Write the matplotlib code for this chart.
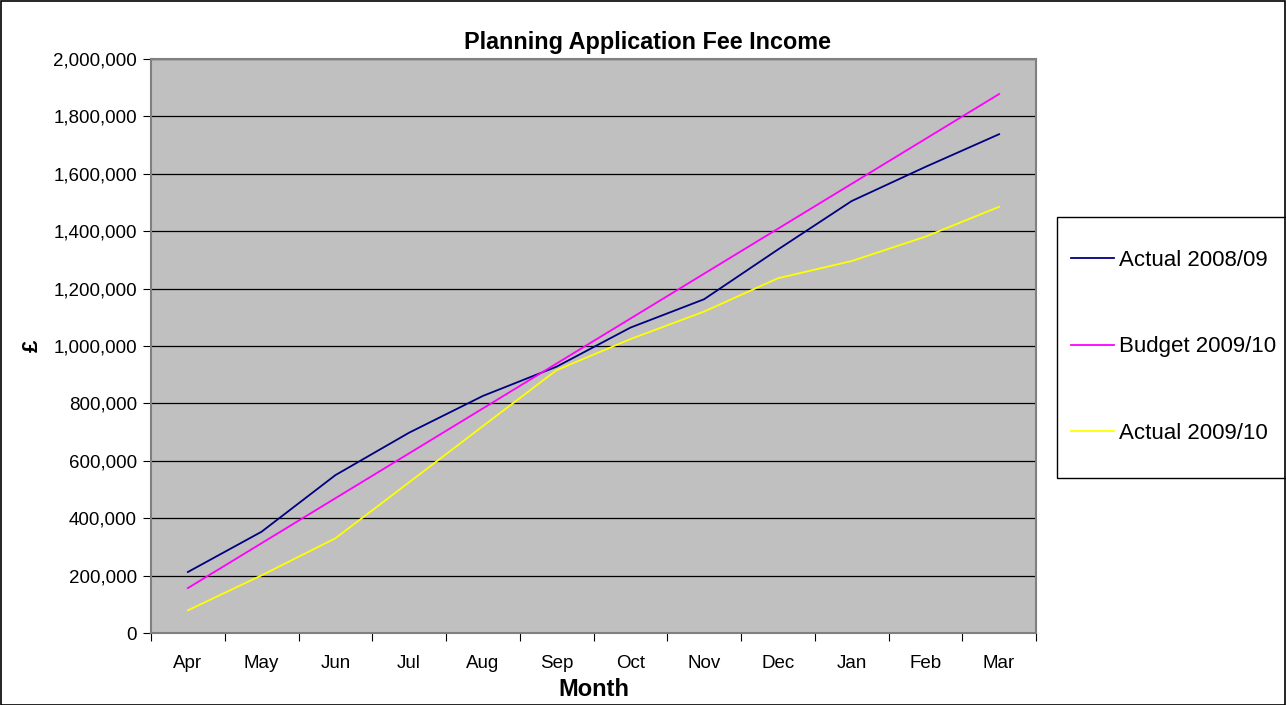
import matplotlib
matplotlib.use("Agg")
import matplotlib.pyplot as plt
from matplotlib.patches import Rectangle
from matplotlib.ticker import FuncFormatter, FixedLocator

plt.rcParams['font.family'] = ['Liberation Sans', 'DejaVu Sans']

months = ["Apr", "May", "Jun", "Jul", "Aug", "Sep", "Oct", "Nov", "Dec", "Jan", "Feb", "Mar"]
actual_0809 = [212500, 353000, 550000, 698000, 826000, 928000, 1064000, 1163000,
               1336000, 1505000, 1624000, 1738000]
budget_0910 = [156500, 313000, 469500, 626000, 782500, 939000, 1095500, 1252000,
               1408500, 1565000, 1721500, 1878000]
actual_0910 = [79000, 201000, 330000, 525000, 721000, 916000, 1024000, 1120000,
               1236000, 1296000, 1381000, 1485000]
series_labels = ["Actual 2008/09", "Budget 2009/10", "Actual 2009/10"]
series_colors = ["#000080", "#FF00FF", "#FFFF00"]

W, H = 1286, 705
fig = plt.figure(figsize=(W / 100, H / 100), dpi=100)
ax = fig.add_axes([151 / W, 1 - 633 / H, 885 / W, 574 / H])
ax.set_facecolor("#C0C0C0")

x = list(range(len(months)))
handles = []
for vals, lab, col in zip([actual_0809, budget_0910, actual_0910], series_labels, series_colors):
    h, = ax.plot(x, vals, color=col, lw=1.3, label=lab, zorder=3)
    handles.append(h)

ax.set_xlim(-0.5, len(months) - 0.5)
ax.set_ylim(0, 2000000)
ax.set_yticks(range(0, 2000001, 200000))
ax.yaxis.set_major_formatter(FuncFormatter(lambda v, p: f"{int(v):,}"))
ax.grid(axis="y", color="black", lw=0.9, zorder=1)
ax.set_axisbelow(True)

ax.xaxis.set_major_locator(FixedLocator([i - 0.5 for i in range(len(months) + 1)]))
ax.xaxis.set_minor_locator(FixedLocator(x))
ax.set_xticklabels([])
ax.set_xticklabels(months, minor=True)
ax.tick_params(axis="x", which="major", length=6, width=0.8, color="black", direction="out")
ax.tick_params(axis="x", which="minor", length=0, pad=16, labelsize=13.5)
ax.tick_params(axis="y", length=6, width=0.8, color="black", direction="out", pad=4, labelsize=13.5)

for s in ax.spines.values():
    s.set_color("#808080")
    s.set_linewidth(1.5)

ax.set_xlabel("Month", fontsize=17, fontweight="bold")
ax.xaxis.set_label_coords(0.5, -(690 - 633) / 574)
ax.xaxis.label.set_va("center")
ax.set_ylabel("£", fontsize=16, fontweight="bold")
ax.yaxis.set_label_coords(-(151 - 32) / 885, 0.5)
ax.yaxis.label.set_va("center")

fig.text(648 / W, 1 - 42 / H, "Planning Application Fee Income", ha="center", va="center",
         fontsize=16.8, fontweight="bold")

# legend box
fig.patches.append(Rectangle((1057 / W, 1 - 478 / H), (W - 1057 + 10) / W, (478 - 217) / H,
                             transform=fig.transFigure, facecolor="white", edgecolor="black",
                             lw=1.0, zorder=0))
leg = fig.legend(handles=handles, loc="center left", bbox_to_anchor=(1071 / W, 1 - 347 / H),
                 frameon=False, fontsize=16, handlelength=1.95,
                 handletextpad=0.22, labelspacing=2.95, borderpad=0, borderaxespad=0)

fig.patches.append(Rectangle((0.5 / W, 0.5 / H), (W - 1.5) / W, (H - 1.5) / H,
                             transform=fig.transFigure, fill=False, edgecolor="black", lw=1.2))

fig.savefig("out.png", dpi=100)
